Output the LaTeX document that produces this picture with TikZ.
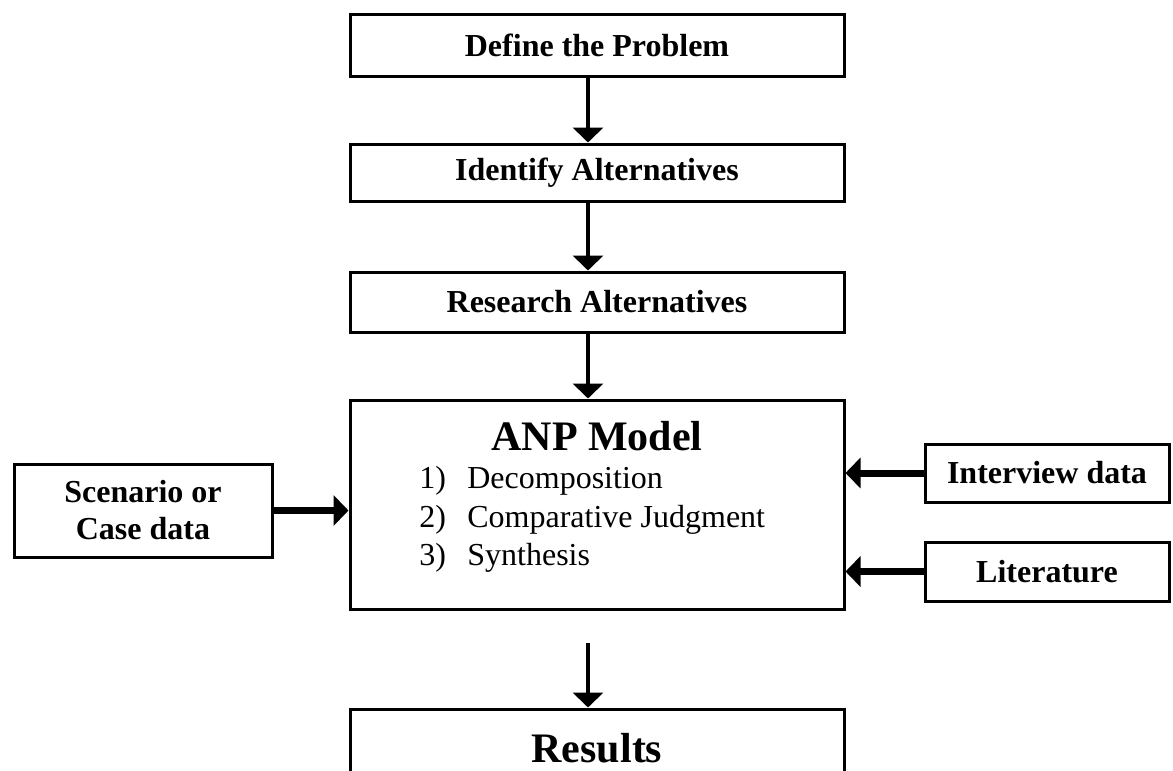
\documentclass[tikz,border=0pt]{standalone}
\usepackage{fontspec}
\setmainfont{Liberation Serif}
\usepackage{tikz}
\usetikzlibrary{arrows.meta}

\tikzset{
  box/.style={draw, line width=1.5pt, inner sep=0pt, minimum width=247pt,
    font=\fontsize{16}{18.5}\selectfont\bfseries, align=center},
  sidebox/.style={box, minimum width=122pt},
  vflow/.style={line width=2.25pt, -{Triangle[width=15pt,length=7.5pt]}},
  hflow/.style={line width=3.5pt, -{Triangle[width=15pt,length=7.5pt]}}
}

\begin{document}
\begin{tikzpicture}[x=0.5pt, y=-0.5pt]
    \useasboundingbox (0,0) rectangle (1173,771);
    \clip (0,0) rectangle (1173,771);
    % Main column
    \node[box, minimum height=31pt] (define) at (597,45) {Define the Problem};
    \node[box, minimum height=28.5pt] (ident) at (597,172.5) {Identify Alternatives};
    \node[box, minimum height=30pt] (research) at (597,302) {Research Alternatives};
    \node[box, minimum height=104.5pt] (anp) at (597,504.5) {};
    \node[box, minimum height=39pt, font=\fontsize{21}{25}\selectfont\bfseries] (results) at (597,748) {Results};
    % Contents of the ANP box
    \node[anchor=base, inner sep=0pt, font=\fontsize{21}{25}\selectfont\bfseries] (anptitle) at (597,450) {ANP Model};
    \foreach \n/\t/\y in {1/Decomposition/488, 2/Comparative Judgment/527, 3/Synthesis/565} {
      \node[anchor=base west, inner sep=0pt, font=\fontsize{16}{18.5}\selectfont] (item\n) at (419,\y) {\makebox[24pt][l]{\n)}\t};
    }
    % Side inputs
    \node[sidebox, minimum width=129pt, minimum height=46.5pt] (scen) at (143,510.5) {Scenario or\\Case data};
    \node[sidebox, minimum height=29pt] (intv) at (1047,473) {Interview data};
    \node[sidebox, minimum height=29.5pt] (lit) at (1047,571.5) {Literature};
    % Arrows down the column
    \draw[vflow] ([xshift=-4.5pt]define.south) -- ([xshift=-4.5pt]ident.north);
    \draw[vflow] ([xshift=-4.5pt]ident.south) -- ([xshift=-4.5pt]research.north);
    \draw[vflow] ([xshift=-4.5pt]research.south) -- ([xshift=-4.5pt]anp.north);
    \coordinate (gap) at (588,643);
    \draw[vflow] (gap) -- ([xshift=-4.5pt]results.north);
    % Arrows into the model
    \draw[hflow] (scen.east) -- (scen.east -| anp.west);
    \draw[hflow] (intv.west) -- (intv.west -| anp.east);
    \draw[hflow] (lit.west) -- (lit.west -| anp.east);
  \end{tikzpicture}
\end{document}
